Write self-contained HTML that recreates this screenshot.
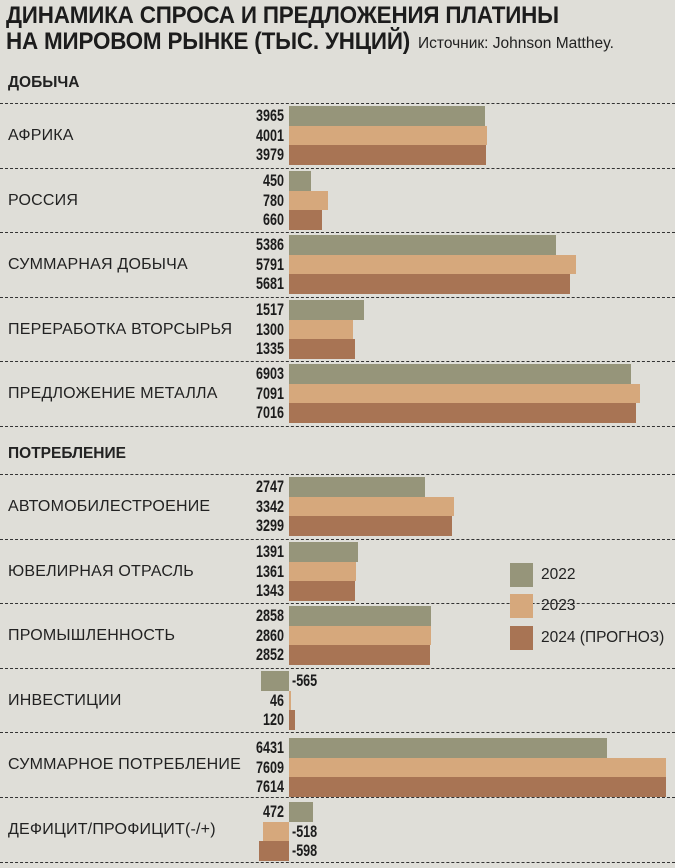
<!DOCTYPE html>
<html><head><meta charset="utf-8"><style>
body{margin:0;background:#dfded8;}
#c{position:relative;width:675px;height:868px;overflow:hidden;background:#dfded8;font-family:"Liberation Sans",sans-serif;color:#222;}
.t{position:absolute;left:6px;font-weight:bold;font-size:24.5px;white-space:nowrap;transform:scaleX(0.915);transform-origin:left top;letter-spacing:-0.2px;color:#1c1c1c}
.src{position:absolute;left:418px;top:35px;font-size:15.5px;color:#222;white-space:nowrap}
.h{position:absolute;left:8px;font-weight:bold;font-size:15.5px}
.ln{position:absolute;left:0;width:675px;height:0;border-top:1.3px dashed #333}
.g{position:absolute;left:0;width:675px;height:59px}
.lab{position:absolute;left:8px;top:0;line-height:59px;font-size:16px;white-space:nowrap;letter-spacing:0.2px}
.b{position:absolute;height:19.7px}
.n{position:absolute;font-family:"Liberation Sans",sans-serif;font-weight:bold;font-size:17px;line-height:19.7px;width:60px;transform:scaleX(0.74);color:#1c1c1c}
.nl{left:224px;text-align:right;transform-origin:right center}
.nr{left:292px;text-align:left;transform-origin:left center}
.c1{background:#96957a}.c2{background:#d6a87c}.c3{background:#a87454}
.lg{position:absolute;left:510px;width:23px;height:24px}
.lt{position:absolute;left:541px;font-size:15.5px;line-height:24px}
</style></head><body><div id="c">
<div class="t" style="top:2px">ДИНАМИКА СПРОСА И ПРЕДЛОЖЕНИЯ ПЛАТИНЫ</div>
<div class="t" style="top:28px">НА МИРОВОМ РЫНКЕ (ТЫС. УНЦИЙ)</div>
<div class="src">Источник: Johnson Matthey.</div>
<div class="h" style="top:74px">ДОБЫЧА</div>
<div class="h" style="top:445px">ПОТРЕБЛЕНИЕ</div>

<div class="ln" style="top:103px"></div>
<div class="ln" style="top:168px"></div>
<div class="ln" style="top:232px"></div>
<div class="ln" style="top:297px"></div>
<div class="ln" style="top:361px"></div>
<div class="ln" style="top:426px"></div>
<div class="ln" style="top:474px"></div>
<div class="ln" style="top:539px"></div>
<div class="ln" style="top:603px"></div>
<div class="ln" style="top:668px"></div>
<div class="ln" style="top:732px"></div>
<div class="ln" style="top:797px"></div>
<div class="ln" style="top:862px"></div>

<div class="g" style="top:106px"><div class="lab">АФРИКА</div>
<div class="b c1" style="top:0;left:289px;width:196px"></div><div class="n nl" style="top:0">3965</div>
<div class="b c2" style="top:19.7px;left:289px;width:198px"></div><div class="n nl" style="top:19.7px">4001</div>
<div class="b c3" style="top:39.4px;left:289px;width:197px"></div><div class="n nl" style="top:39.4px">3979</div></div>

<div class="g" style="top:171px"><div class="lab">РОССИЯ</div>
<div class="b c1" style="top:0;left:289px;width:22px"></div><div class="n nl" style="top:0">450</div>
<div class="b c2" style="top:19.7px;left:289px;width:39px"></div><div class="n nl" style="top:19.7px">780</div>
<div class="b c3" style="top:39.4px;left:289px;width:33px"></div><div class="n nl" style="top:39.4px">660</div></div>

<div class="g" style="top:235px"><div class="lab">СУММАРНАЯ ДОБЫЧА</div>
<div class="b c1" style="top:0;left:289px;width:267px"></div><div class="n nl" style="top:0">5386</div>
<div class="b c2" style="top:19.7px;left:289px;width:287px"></div><div class="n nl" style="top:19.7px">5791</div>
<div class="b c3" style="top:39.4px;left:289px;width:281px"></div><div class="n nl" style="top:39.4px">5681</div></div>

<div class="g" style="top:300px"><div class="lab">ПЕРЕРАБОТКА ВТОРСЫРЬЯ</div>
<div class="b c1" style="top:0;left:289px;width:75px"></div><div class="n nl" style="top:0">1517</div>
<div class="b c2" style="top:19.7px;left:289px;width:64px"></div><div class="n nl" style="top:19.7px">1300</div>
<div class="b c3" style="top:39.4px;left:289px;width:66px"></div><div class="n nl" style="top:39.4px">1335</div></div>

<div class="g" style="top:364px"><div class="lab">ПРЕДЛОЖЕНИЕ МЕТАЛЛА</div>
<div class="b c1" style="top:0;left:289px;width:342px"></div><div class="n nl" style="top:0">6903</div>
<div class="b c2" style="top:19.7px;left:289px;width:351px"></div><div class="n nl" style="top:19.7px">7091</div>
<div class="b c3" style="top:39.4px;left:289px;width:347px"></div><div class="n nl" style="top:39.4px">7016</div></div>

<div class="g" style="top:477px"><div class="lab">АВТОМОБИЛЕСТРОЕНИЕ</div>
<div class="b c1" style="top:0;left:289px;width:136px"></div><div class="n nl" style="top:0">2747</div>
<div class="b c2" style="top:19.7px;left:289px;width:165px"></div><div class="n nl" style="top:19.7px">3342</div>
<div class="b c3" style="top:39.4px;left:289px;width:163px"></div><div class="n nl" style="top:39.4px">3299</div></div>

<div class="g" style="top:542px"><div class="lab">ЮВЕЛИРНАЯ ОТРАСЛЬ</div>
<div class="b c1" style="top:0;left:289px;width:69px"></div><div class="n nl" style="top:0">1391</div>
<div class="b c2" style="top:19.7px;left:289px;width:67px"></div><div class="n nl" style="top:19.7px">1361</div>
<div class="b c3" style="top:39.4px;left:289px;width:66px"></div><div class="n nl" style="top:39.4px">1343</div></div>

<div class="g" style="top:606px"><div class="lab">ПРОМЫШЛЕННОСТЬ</div>
<div class="b c1" style="top:0;left:289px;width:142px"></div><div class="n nl" style="top:0">2858</div>
<div class="b c2" style="top:19.7px;left:289px;width:142px"></div><div class="n nl" style="top:19.7px">2860</div>
<div class="b c3" style="top:39.4px;left:289px;width:141px"></div><div class="n nl" style="top:39.4px">2852</div></div>

<div class="g" style="top:671px"><div class="lab">ИНВЕСТИЦИИ</div>
<div class="b c1" style="top:0;left:261px;width:28px"></div><div class="n nr" style="top:0">-565</div>
<div class="b c2" style="top:19.7px;left:289px;width:2px"></div><div class="n nl" style="top:19.7px">46</div>
<div class="b c3" style="top:39.4px;left:289px;width:6px"></div><div class="n nl" style="top:39.4px">120</div></div>

<div class="g" style="top:735px"><div class="lab">СУММАРНОЕ ПОТРЕБЛЕНИЕ</div>
<div class="b c1" style="top:3px;left:289px;width:318px"></div><div class="n nl" style="top:3px">6431</div>
<div class="b c2" style="top:22.7px;left:289px;width:377px"></div><div class="n nl" style="top:22.7px">7609</div>
<div class="b c3" style="top:42.4px;left:289px;width:377px"></div><div class="n nl" style="top:42.4px">7614</div></div>

<div class="g" style="top:800px"><div class="lab">ДЕФИЦИТ/ПРОФИЦИТ(-/+)</div>
<div class="b c1" style="top:2px;left:289px;width:24px"></div><div class="n nl" style="top:2px">472</div>
<div class="b c2" style="top:21.7px;left:263px;width:26px"></div><div class="n nr" style="top:21.7px">-518</div>
<div class="b c3" style="top:41.4px;left:259px;width:30px"></div><div class="n nr" style="top:41.4px">-598</div></div>

<div class="lg c1" style="top:563px"></div><div class="lt" style="top:563px">2022</div>
<div class="lg c2" style="top:594px"></div><div class="lt" style="top:594px">2023</div>
<div class="lg c3" style="top:626px"></div><div class="lt" style="top:626px">2024 (ПРОГНОЗ)</div>
</div></body></html>
